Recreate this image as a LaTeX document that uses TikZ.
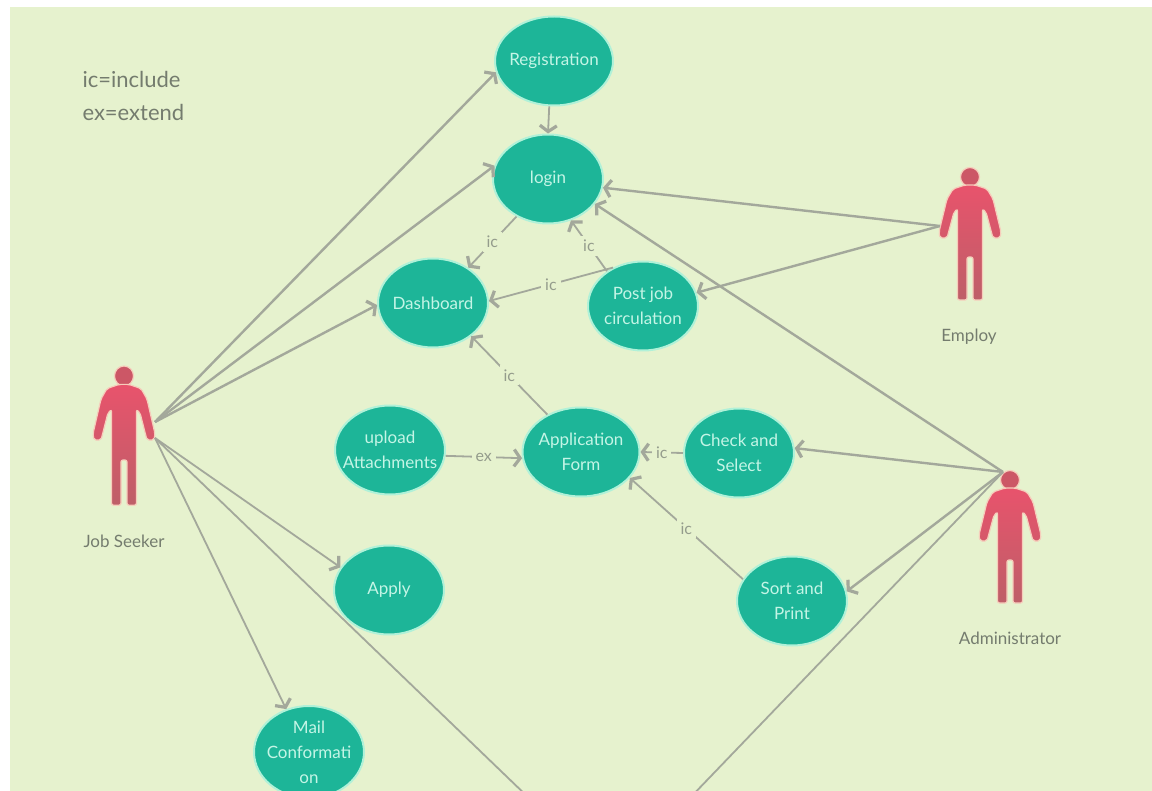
\documentclass[tikz,border=0pt]{standalone}
\usepackage{fontspec}
\setmainfont{Lato}
\usetikzlibrary{arrows.meta,shapes.geometric}
\definecolor{bgc}{HTML}{E6F2CE}
\definecolor{ellc}{HTML}{1DB598}
\definecolor{halo}{HTML}{B0F1D8}
\definecolor{elltxt}{HTML}{C4F5E6}
\definecolor{linec}{HTML}{A3A89B}
\definecolor{tagc}{HTML}{949C8C}
\definecolor{txtc}{HTML}{747C6E}
\definecolor{persona}{HTML}{E8536C}
\definecolor{personb}{HTML}{BE5F68}
\definecolor{personc}{HTML}{CC5766}
\definecolor{personh}{HTML}{F6CDBB}
\tikzset{
  usecase/.style={ellipse,fill=ellc,draw=halo,line width=2pt,minimum width=110pt,minimum height=89pt,inner sep=-14pt,text=elltxt,align=center,font=\fontsize{17}{25}\selectfont},
  link/.style={draw=linec,line width=2.4pt,-{Straight Barb[length=6pt,width=17pt,line width=3.2pt]}},
  thin link/.style={link,line width=1.8pt},
  plain link/.style={draw=linec,line width=1.8pt},
  edgetag/.style={fill=bgc,text=tagc,inner sep=4pt,font=\fontsize{16}{16}\selectfont},
  actorname/.style={text=txtc,font=\fontsize{17}{17}\selectfont},
  person/.pic={
    \path[draw=personh,line width=1.2pt,fill=personc] (0,0) circle (9.5);
    \path[draw=personh,line width=1.2pt,top color=persona,bottom color=personb,rounded corners=2pt]
      (-5,8) -- (-17,12) -- (-23,22) -- (-31,55) -- (-30,61) -- (-23,61) -- (-16,35) -- (-12.5,32) -- (-12.5,123)
      -- (-3,123) -- (-3,80) -- (3,80) -- (3,123) -- (12.5,123) -- (12.5,32) -- (16,35) -- (23,61) -- (30,61)
      -- (31,55) -- (23,22) -- (17,12) -- (5,8) -- cycle;
  }
}
\begin{document}
\begin{tikzpicture}[x=1pt,y=-1pt]
\useasboundingbox (0,0) rectangle (1152,791);
\clip (0,0) rectangle (1152,791);
\fill[bgc] (10,7) rectangle (1152,791);

% use cases
\node[usecase,minimum width=118pt] (reg) at (554,61) {Registration};
\node[usecase] (login) at (548,179) {login};
\node[usecase] (dash) at (433,303) {Dashboard};
\node[usecase] (post) at (643,306) {Post job\\circulation};
\node[usecase] (upload) at (390,450) {upload\\Attachments};
\node[usecase,minimum width=117pt] (app) at (581,452) {Application\\Form};
\node[usecase] (check) at (739,453) {Check and\\Select};
\node[usecase] (sort) at (792,601) {Sort and\\Print};
\node[usecase] (apply) at (389,590) {Apply};
\node[usecase,minimum height=92pt] (mail) at (309,752) {Mail\\Conformati\\on};

% actors
\pic[yscale=1.05] at (124,376) {person};
\pic at (970,177) {person};
\pic at (1010,480) {person};
\node[actorname] (jsname) at (124,541) {Job Seeker};
\node[actorname] (emname) at (969,337) {Employ};
\node[actorname] (adname) at (1010,638) {Administrator};
\coordinate (jsup) at (155,422);
\coordinate (jsdown) at (155,438);
\coordinate (emhand) at (940,226);
\coordinate (adhead) at (1003,472);
\coordinate (offa) at (531,800);
\coordinate (offb) at (688,800);

% legend
\node[text=txtc,align=left,anchor=north west,font=\fontsize{22}{33}\selectfont] (legend) at (79,68) {ic=include\\ex=extend};

% job seeker
\draw[link] (jsup) -- (reg.191);
\draw[link] (jsup) -- (login.166);
\draw[link] (jsup) -- (dash.182);
\draw[thin link] (jsdown) -- (apply.155);
\draw[thin link] (jsdown) -- (mail.118);
\draw[plain link] (jsdown) -- (offa);

% employ
\draw[link] (emhand) -- (login.-9);
\draw[link] (emhand) -- (post.14);

% administrator
\draw[link] (adhead) -- (login.-28);
\draw[link] (adhead) -- (check.5);
\draw[link] (adhead) -- (sort.10);
\draw[plain link] (adhead) -- (offb);

% include / extend
\draw[thin link] (reg.-96) -- (login.90);
\draw[thin link] (login.230) -- node[edgetag] (t1) {ic} (dash.45);
\draw[thin link] (post.136) -- node[edgetag] (t2) {ic} (login.-61);
\draw[thin link] (post.128) -- node[edgetag] (t3) {ic} (dash.2);
\draw[thin link] (app.132) -- node[edgetag] (t4) {ic} (dash.-41);
\draw[thin link] (upload.-6) -- node[edgetag] (t5) {ex} (app.186);
\draw[thin link] (check.180) -- node[edgetag] (t6) {ic} (app.0);
\draw[thin link] (sort.156) -- node[edgetag] (t7) {ic} (app.-28);
\end{tikzpicture}
\end{document}
